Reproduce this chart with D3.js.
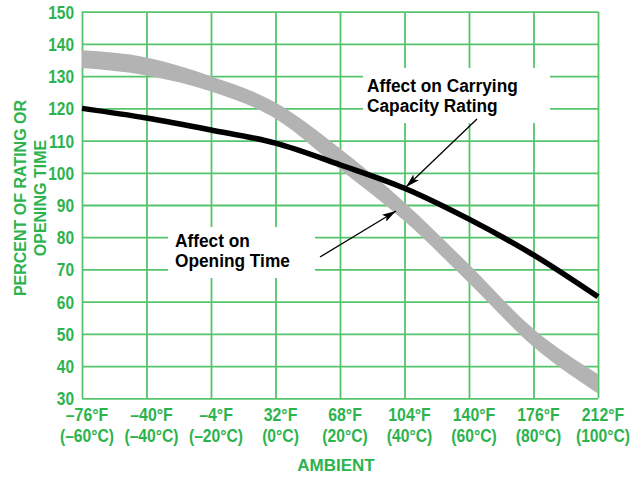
<!DOCTYPE html>
<html>
<head>
<meta charset="utf-8">
<script src="https://cdn.jsdelivr.net/npm/d3@7"></script>
<style>
  body { margin: 0; background: #fff; }
  svg { display: block; }
</style>
</head>
<body>
<div id="chart"></div>
<script>
// ambient temperature, degrees F (tick positions)
const tempF = [-76, -40, -4, 32, 68, 104, 140, 176, 212];
const tempC = [-60, -40, -20, 0, 20, 40, 60, 80, 100];
const percentTicks = [30, 40, 50, 60, 70, 80, 90, 100, 110, 120, 130, 140, 150];

// Affect on Carrying Capacity Rating (black line)
const carrying = [120, 117, 113.3, 109.2, 102.5, 95.2, 85.6, 74.5, 61.5];
// Affect on Opening Time (grey band, upper and lower edge)
const openingUpper = [138, 135.8, 130, 121.8, 107.5, 90.8, 71.5, 51.5, 37.5];
const openingLower = [132.5, 130.2, 125.2, 116.8, 101, 85, 65.8, 46, 31.5];

function init() {
  const w = 643;
  const h = 477;
  const margin = { top: 11.7, left: 82, right: 45, bottom: 78.7 };
  const green = "#2db34e";
  const gridGreen = "#56c46b";
  const font = "'Liberation Sans', Arial, sans-serif";

  const svg = d3
    .select("#chart")
    .append("svg")
    .attr("width", w)
    .attr("height", h);

  // squeeze text horizontally, no narrow font is installed
  function condense(sel, k) {
    sel.each(function () {
      var len = this.getComputedTextLength();
      d3.select(this).attr("textLength", len * k).attr("lengthAdjust", "spacingAndGlyphs");
    });
  }

  var x = d3.scaleLinear().domain([-76, 212]).range([margin.left, w - margin.right]);
  var y = d3.scaleLinear().domain([30, 150]).range([h - margin.bottom, margin.top]);

  // grid (vertical)
  svg
    .append("g")
    .attr("transform", "translate(0," + y(30) + ")")
    .call(d3.axisBottom(x).tickValues(tempF).tickSize(-(y(30) - y(150))).tickFormat(""))
    .call((g) => g.select(".domain").remove())
    .selectAll("line")
    .attr("stroke", gridGreen)
    .attr("stroke-width", 1.8);

  // grid (horizontal)
  svg
    .append("g")
    .attr("transform", "translate(" + x(-76) + ",0)")
    .call(d3.axisLeft(y).tickValues(percentTicks).tickSize(-(x(212) - x(-76))).tickFormat(""))
    .call((g) => g.select(".domain").remove())
    .selectAll("line")
    .attr("stroke", gridGreen)
    .attr("stroke-width", 1.8);

  // y tick labels
  svg
    .selectAll(".ylab")
    .data(percentTicks)
    .enter()
    .append("text")
    .attr("class", "ylab")
    .attr("x", x(-76) - 8)
    .attr("y", (d) => y(d) + 7)
    .attr("text-anchor", "end")
    .attr("font-family", font)
    .attr("font-weight", "bold")
    .attr("font-size", "18px")
    .attr("fill", green)
    .text((d) => d)
    .call(condense, 0.86);

  // x tick labels (two lines)
  function fmt(v) {
    return v < 0 ? "\u2013" + Math.abs(v) : "" + v;
  }

  svg
    .selectAll(".xlabF")
    .data(tempF)
    .enter()
    .append("text")
    .attr("class", "xlabF")
    .attr("x", (d) => x(d) + 5)
    .attr("y", 421)
    .attr("text-anchor", "middle")
    .attr("font-family", font)
    .attr("font-weight", "bold")
    .attr("font-size", "18px")
    .attr("fill", green)
    .text((d) => fmt(d) + "\u00b0F")
    .call(condense, 0.88);

  svg
    .selectAll(".xlabC")
    .data(tempC)
    .enter()
    .append("text")
    .attr("class", "xlabC")
    .attr("x", (d, i) => x(tempF[i]) + 5)
    .attr("y", 442)
    .attr("text-anchor", "middle")
    .attr("font-family", font)
    .attr("font-weight", "bold")
    .attr("font-size", "18px")
    .attr("fill", green)
    .text((d) => "(" + fmt(d) + "\u00b0C)")
    .call(condense, 0.87);

  // axis titles
  svg
    .append("text")
    .attr("x", 336)
    .attr("y", 471)
    .attr("text-anchor", "middle")
    .attr("font-family", font)
    .attr("font-weight", "bold")
    .attr("font-size", "17px")
    .attr("fill", green)
    .text("AMBIENT");

  ["PERCENT OF RATING OR", "OPENING TIME"].forEach(function (s, i) {
    svg
      .append("text")
      .attr("transform", "translate(" + (26 + i * 20) + ",198) rotate(-90)")
      .attr("text-anchor", "middle")
      .attr("font-family", font)
      .attr("font-weight", "bold")
      .attr("font-size", "16px")
      .attr("fill", green)
      .text(s);
  });

  // grey band: opening time
  var band = d3
    .area()
    .x((d) => x(d.f))
    .y0((d) => y(d.lo))
    .y1((d) => y(d.hi))
    .curve(d3.curveMonotoneX);

  var bandData = tempF.map((f, i) => ({ f: f, hi: openingUpper[i], lo: openingLower[i] }));

  svg.append("path").datum(bandData).attr("d", band).attr("fill", "#b3b3b3");

  // black line: carrying capacity
  var line = d3
    .line()
    .x((d) => x(d.f))
    .y((d) => y(d.v))
    .curve(d3.curveMonotoneX);

  svg
    .append("path")
    .datum(tempF.map((f, i) => ({ f: f, v: carrying[i] })))
    .attr("d", line)
    .attr("fill", "none")
    .attr("stroke", "#000")
    .attr("stroke-width", 5.5);

  // annotations
  svg
    .append("defs")
    .append("marker")
    .attr("id", "head")
    .attr("markerUnits", "userSpaceOnUse")
    .attr("viewBox", "0 0 14 8")
    .attr("refX", 14)
    .attr("refY", 4)
    .attr("markerWidth", 14)
    .attr("markerHeight", 8)
    .attr("orient", "auto")
    .append("path")
    .attr("d", "M0,0 L14,4 L0,8 L3,4 Z")
    .attr("fill", "#000");

  var notes = [
    { box: [363, 68, 187, 55], tx: 367, ty: 92, lines: ["Affect on Carrying", "Capacity Rating"], from: [477, 119], to: [406, 187] },
    { box: [168, 227, 147, 51], tx: 175, ty: 247, lines: ["Affect on", "Opening Time"], from: [320, 257], to: [396, 211] }
  ];

  notes.forEach(function (n) {
    svg
      .append("rect")
      .attr("x", n.box[0])
      .attr("y", n.box[1])
      .attr("width", n.box[2])
      .attr("height", n.box[3])
      .attr("fill", "#fff");

    n.lines.forEach(function (s, i) {
      svg
        .append("text")
        .attr("x", n.tx)
        .attr("y", n.ty + i * 20)
        .attr("font-family", font)
        .attr("font-weight", "bold")
        .attr("font-size", "18px")
        .attr("fill", "#000")
        .text(s)
        .call(condense, 0.96);
    });

    svg
      .append("line")
      .attr("x1", n.from[0])
      .attr("y1", n.from[1])
      .attr("x2", n.to[0])
      .attr("y2", n.to[1])
      .attr("stroke", "#000")
      .attr("stroke-width", 1.3)
      .attr("marker-end", "url(#head)");
  });
}
window.addEventListener("load", init);
</script>
</body>
</html>
